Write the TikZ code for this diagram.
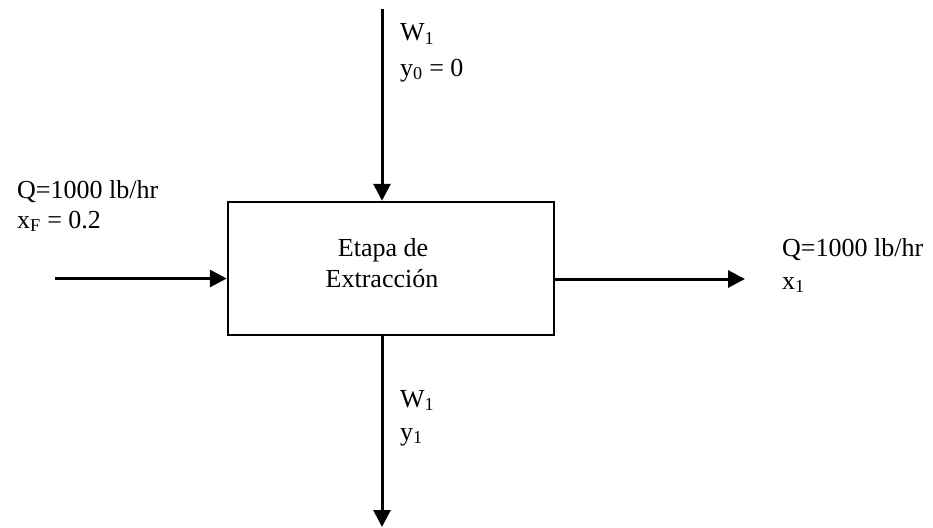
\documentclass[tikz,border=0pt]{standalone}
\usepackage{fontspec}
\setmainfont{Liberation Serif}
\usetikzlibrary{arrows.meta}
\begin{document}
\begin{tikzpicture}[x=1pt,y=-1pt,
  flow/.style={line width=3pt,-{Triangle[length=17pt,width=17pt]}},
  stagebox/.style={draw,line width=2.5pt,minimum width=326pt,minimum height=133pt,inner sep=0pt},
  lbl/.style={anchor=base west,inner sep=0pt,font=\fontsize{26}{31}\selectfont},
  ctr/.style={anchor=base,inner sep=0pt,font=\fontsize{26}{31}\selectfont}]
\useasboundingbox (0,0) rectangle (933,527);

% extraction stage
\node[stagebox] (stage) at (391,268.5) {};
\node[ctr] (stagetxtA) at (383,256) {Etapa de};
\node[ctr] (stagetxtB) at (382,287) {Extracción};

% stream ends
\coordinate (topin) at (382,9);
\coordinate (botout) at (382,527);
\coordinate (leftin) at (55,278.5);
\coordinate (rightout) at (745,279);

% streams
\draw[flow] (topin) -- (topin |- stage.north);
\draw[flow] (botout |- stage.south) -- (botout);
\draw[flow] (leftin) -- (leftin -| stage.west);
\draw[flow] (rightout -| stage.east) -- (rightout);

% stream labels
\node[lbl] (feedQ) at (17,198) {Q=1000 lb/hr};
\node[lbl] (feedx) at (17,228) {x\textsubscript{F} = 0.2};
\node[lbl] (solvW) at (400,41) {W\textsubscript{1}};
\node[lbl] (solvy) at (400,76) {y\textsubscript{0} = 0};
\node[lbl] (extW) at (400,407) {W\textsubscript{1}};
\node[lbl] (exty) at (400,440) {y\textsubscript{1}};
\node[lbl] (rafQ) at (782,256) {Q=1000 lb/hr};
\node[lbl] (rafx) at (782,289) {x\textsubscript{1}};
\end{tikzpicture}
\end{document}
